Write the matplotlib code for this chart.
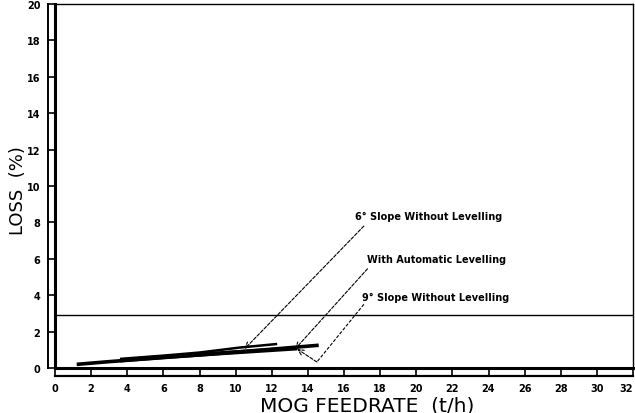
import matplotlib
matplotlib.use("Agg")
from matplotlib import pyplot as plt
from matplotlib.transforms import ScaledTranslation

# curves
x_9deg = [1.2, 3.0, 5.0, 8.0, 11.0, 14.6]
y_9deg = [0.2, 0.35, 0.5, 0.72, 0.95, 1.25]
x_auto = [3.6, 6.0, 9.0, 13.4]
y_auto = [0.42, 0.6, 0.8, 1.08]
x_6deg = [3.6, 6.0, 8.0, 10.2, 12.3]
y_6deg = [0.5, 0.68, 0.85, 1.12, 1.32]
limit_loss = 2.9

x_ticks = list(range(0, 33, 2))
y_ticks = list(range(0, 21, 2))

tick_font = dict(family=["Liberation Sans Narrow", "DejaVu Sans"], weight="bold", size=7)

fig = plt.figure(figsize=(6.35, 4.14), dpi=100)
ax = fig.add_axes([55/635, 45/414, 578/635, 364/414])

ax.plot(x_9deg, y_9deg, color="black", lw=2.6, solid_capstyle="butt")
ax.plot(x_auto, y_auto, color="black", lw=3.0, solid_capstyle="butt")
ax.plot(x_6deg, y_6deg, color="black", lw=1.8, solid_capstyle="butt")
ax.axhline(limit_loss, color="black", lw=1.0)

ax.set_xlim(0, 32)
ax.set_ylim(0, 20)
ax.set_xticks(x_ticks)
ax.set_yticks(y_ticks)
xl = ax.set_xticklabels([str(t) for t in x_ticks], fontdict=tick_font)
xl[-1].set_horizontalalignment("right")
ax.set_yticklabels([str(t) for t in y_ticks], fontdict=tick_font)
ax.tick_params(direction="out", length=5.5, width=1.2, color="black")
ax.tick_params(axis="x", pad=5)
ax.tick_params(axis="y", pad=5)

for side in ["top", "right"]:
    ax.spines[side].set_linewidth(1.0)
ax.spines["left"].set_linewidth(2.2)
ax.spines["bottom"].set_linewidth(2.2)

# outer lines of the double frame
off_left = ax.transAxes + ScaledTranslation(-7/100, 0, fig.dpi_scale_trans)
ax.plot([0, 0], [0, 1], color="black", lw=1.4, transform=off_left, clip_on=False)
off_bottom = ax.transAxes + ScaledTranslation(0, -8/100, fig.dpi_scale_trans)
ax.plot([0, 1], [0, 0], color="black", lw=1.6, transform=off_bottom, clip_on=False)

arrow = dict(arrowstyle="->", linestyle=(0, (3, 1.5)), lw=0.8, color="black", shrinkA=0, shrinkB=0)
label_font = dict(family="DejaVu Sans", weight="bold", size=7)

ax.text(16.6, 8.35, "6° Slope Without Levelling", va="center", **label_font)
ax.annotate("", xy=(10.5, 1.05), xytext=(17.1, 7.8), arrowprops=arrow)

ax.text(17.3, 6.0, "With Automatic Levelling", va="center", **label_font)
ax.annotate("", xy=(13.3, 1.05), xytext=(17.3, 5.45), arrowprops=arrow)

ax.text(17.0, 3.9, "9° Slope Without Levelling", va="center", **label_font)
ax.plot([17.1, 14.5], [3.5, 0.33], color="black", lw=0.8, linestyle=(0, (3, 1.5)))
ax.annotate("", xy=(13.4, 1.05), xytext=(14.5, 0.33), arrowprops=arrow)

ax.set_xlabel("MOG FEEDRATE  (t/h)", fontsize=14.5)
ax.xaxis.set_label_coords(0.54, -0.075)
ax.set_ylabel("LOSS  (%)", fontsize=13)
ax.yaxis.set_label_coords(-0.048, 0.49)

fig.savefig("out.png", dpi=100)
